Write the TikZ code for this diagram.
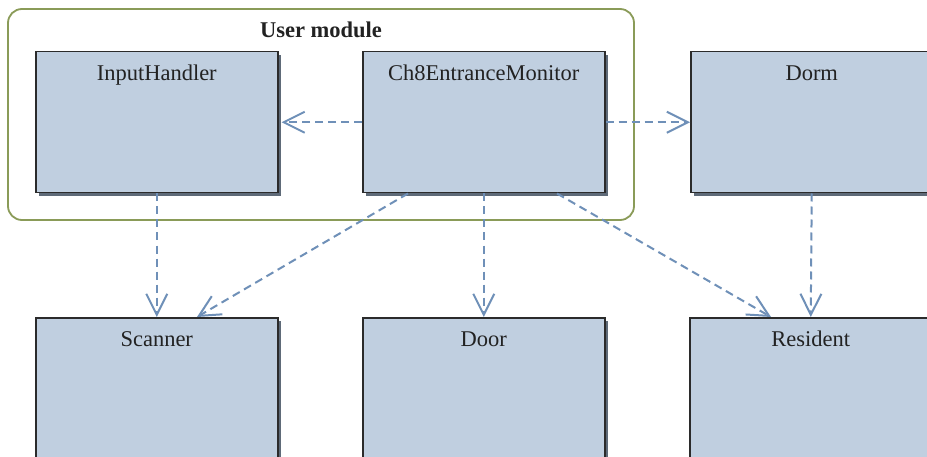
\documentclass[tikz,border=0pt]{standalone}
\usepackage{fontspec}
\setmainfont{Liberation Serif}
\usetikzlibrary{arrows.meta,shadows}
\definecolor{classfill}{RGB}{192,207,224}
\definecolor{classline}{RGB}{43,43,43}
\definecolor{shadowgray}{RGB}{94,106,120}
\definecolor{deparrow}{RGB}{111,144,184}
\definecolor{modgreen}{RGB}{138,155,88}
\definecolor{txtgray}{RGB}{34,34,34}
\tikzset{
  classbox/.style={draw=classline, line width=1.5pt, fill=classfill, anchor=north west,
    minimum width=242pt, minimum height=141pt, inner sep=0pt,
    drop shadow={shadow xshift=3pt, shadow yshift=-3pt, fill=shadowgray, opacity=1}},
  classname/.style={label={[anchor=base, yshift=-29.5pt, text=txtgray]north:#1}},
  dep/.style={draw=deparrow, line width=2pt, dash pattern=on 8pt off 5pt,
    -{Straight Barb[length=21pt, width=21pt]}}
}
\begin{document}
\begin{tikzpicture}[x=1pt, y=1pt, font=\fontsize{22.5}{27}\selectfont]
\clip (0,0) rectangle (927,456);
\fill[white] (0,0) rectangle (927,456);
% user module
\draw[modgreen, line width=1.8pt, rounded corners=14pt] (8,447) rectangle (634,236);
\node[anchor=base, text=txtgray, font=\fontsize{22.5}{27}\selectfont\bfseries] (modlabel) at (321,418) {User module};
% top row
\node[classbox, classname=InputHandler] (input) at (35,405) {};
\node[classbox, classname=Ch8EntranceMonitor] (monitor) at (362,405) {};
\node[classbox, classname=Dorm] (dorm) at (690,405) {};
% bottom row
\node[classbox, minimum height=150pt, classname=Scanner] (scanner) at (35,139) {};
\node[classbox, minimum height=150pt, classname=Door] (door) at (362,139) {};
\node[classbox, minimum height=150pt, classname=Resident] (resident) at (689,139) {};
% dependencies
\draw[dep] (monitor.west) -- ([xshift=3pt]input.east);
\draw[dep] (monitor.east) -- (dorm.west);
\draw[dep] (input.south) -- (scanner.north);
\draw[dep] ([xshift=46pt]monitor.south west) -- ([xshift=162pt]scanner.north west);
\draw[dep] (monitor.south) -- (door.north);
\draw[dep] ([xshift=195pt]monitor.south west) -- ([xshift=82pt]resident.north west);
\draw[dep] (dorm.south) -- (resident.north);
\end{tikzpicture}
\end{document}
